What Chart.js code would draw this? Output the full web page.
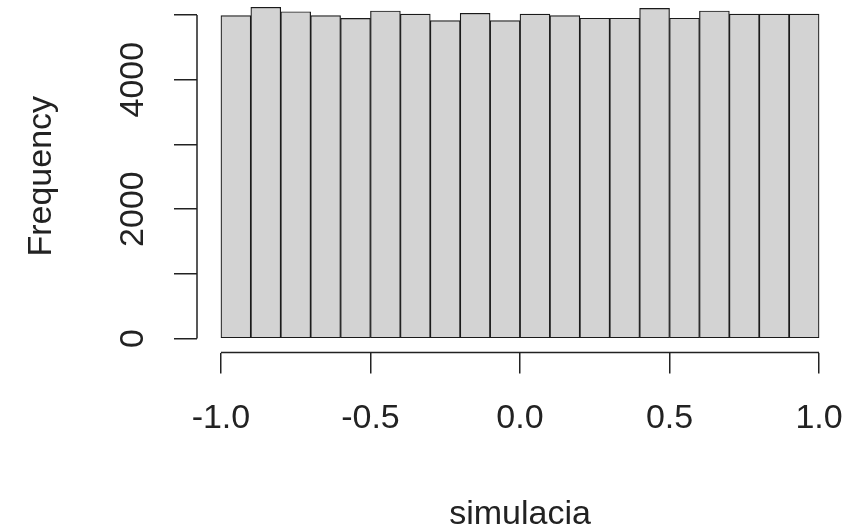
<!DOCTYPE html>
<html>
<head>
<meta charset="utf-8">
<script src="https://cdn.jsdelivr.net/npm/chart.js@4/dist/chart.umd.min.js"></script>
<style>
  body { margin: 0; background: #fff; }
  #wrap { width: 859px; height: 530px; }
</style>
</head>
<body>
<div id="wrap"><canvas id="chart" width="859" height="530"></canvas></div>
<script>
// histogram bins (width 0.1 from -1 to 1) and counts
const binStarts = [-1.0, -0.9, -0.8, -0.7, -0.6, -0.5, -0.4, -0.3, -0.2, -0.1,
                   0.0, 0.1, 0.2, 0.3, 0.4, 0.5, 0.6, 0.7, 0.8, 0.9]
const counts = [4990, 5119, 5051, 4990, 4948, 5062, 5015, 4912, 5026, 4915,
                5015, 4992, 4950, 4950, 5103, 4950, 5062, 5015, 5015, 5015]
const binWidth = 0.1

const xTickValues = [-1, -0.5, 0, 0.5, 1]
const yTickValues = [0, 1000, 2000, 3000, 4000, 5000]
const yTickLabels = ['0', '', '2000', '', '4000', '']

const FONT = "'Liberation Sans', Arial, sans-serif"
const ink = '#222'

// R-style axes: the line only spans the first to last tick, labels on y rotated
const rAxes = {
    id: 'rAxes',
    afterDraw(chart) {
        const ctx = chart.ctx
        const x = chart.scales.x
        const y = chart.scales.y
        ctx.save()
        ctx.strokeStyle = ink
        ctx.lineWidth = 1.5
        ctx.beginPath()
        ctx.moveTo(x.getPixelForValue(xTickValues[0]), x.top)
        ctx.lineTo(x.getPixelForValue(xTickValues[xTickValues.length - 1]), x.top)
        ctx.moveTo(y.right, y.getPixelForValue(yTickValues[0]))
        ctx.lineTo(y.right, y.getPixelForValue(yTickValues[yTickValues.length - 1]))
        ctx.stroke()

        ctx.fillStyle = ink
        ctx.font = '34px ' + FONT
        ctx.textAlign = 'center'
        ctx.textBaseline = 'alphabetic'
        yTickValues.forEach((v, i) => {
            if (!yTickLabels[i]) return
            ctx.save()
            ctx.translate(143, y.getPixelForValue(v))
            ctx.rotate(-Math.PI / 2)
            ctx.fillText(yTickLabels[i], 0, 0)
            ctx.restore()
        })
        ctx.restore()
    }
}

const ctx = document.getElementById('chart').getContext('2d')
const chart = new Chart(ctx, {
    type: 'bar',
    data: {
        datasets: [{
            data: binStarts.map((b, i) => ({ x: b + binWidth / 2, y: counts[i] })),
            backgroundColor: '#D3D3D3',
            borderColor: '#1a1a1a',
            borderWidth: 1.2,
            borderSkipped: false,
            barPercentage: 1,
            categoryPercentage: 1
        }]
    },
    options: {
        responsive: false,
        animation: false,
        layout: { padding: { left: 0, right: 16, top: 0, bottom: 0 } },
        plugins: {
            legend: { display: false },
            tooltip: { enabled: false }
        },
        scales: {
            x: {
                type: 'linear',
                min: -1.08,
                max: 1.08,
                offset: false,
                afterBuildTicks: s => { s.ticks = xTickValues.map(v => ({ value: v })) },
                afterFit: s => { s.height = 177.5; s.paddingLeft = 0; s.paddingRight = 0 },
                border: { display: false },
                grid: { offset: false, drawOnChartArea: false, drawTicks: true, tickLength: 21, color: ink, lineWidth: 1.5 },
                ticks: {
                    color: ink,
                    padding: 25,
                    maxRotation: 0,
                    autoSkip: false,
                    font: { family: FONT, size: 34 },
                    callback: v => v.toFixed(1)
                },
                title: {
                    display: true,
                    text: 'simulacia',
                    color: ink,
                    padding: 0,
                    font: { family: FONT, size: 34, lineHeight: 0.9 }
                }
            },
            y: {
                min: -216,
                max: 5232,
                afterBuildTicks: s => { s.ticks = yTickValues.map(v => ({ value: v })) },
                afterFit: s => { s.width = 197; s.paddingTop = 0; s.paddingBottom = 0 },
                border: { display: false },
                grid: { drawOnChartArea: false, drawTicks: true, tickLength: 23, color: ink, lineWidth: 1.5 },
                ticks: { display: false },
                title: {
                    display: true,
                    text: 'Frequency',
                    color: ink,
                    padding: { top: 21, bottom: 0 },
                    font: { family: FONT, size: 34 }
                }
            }
        }
    },
    plugins: [rAxes]
})
</script>
</body>
</html>
